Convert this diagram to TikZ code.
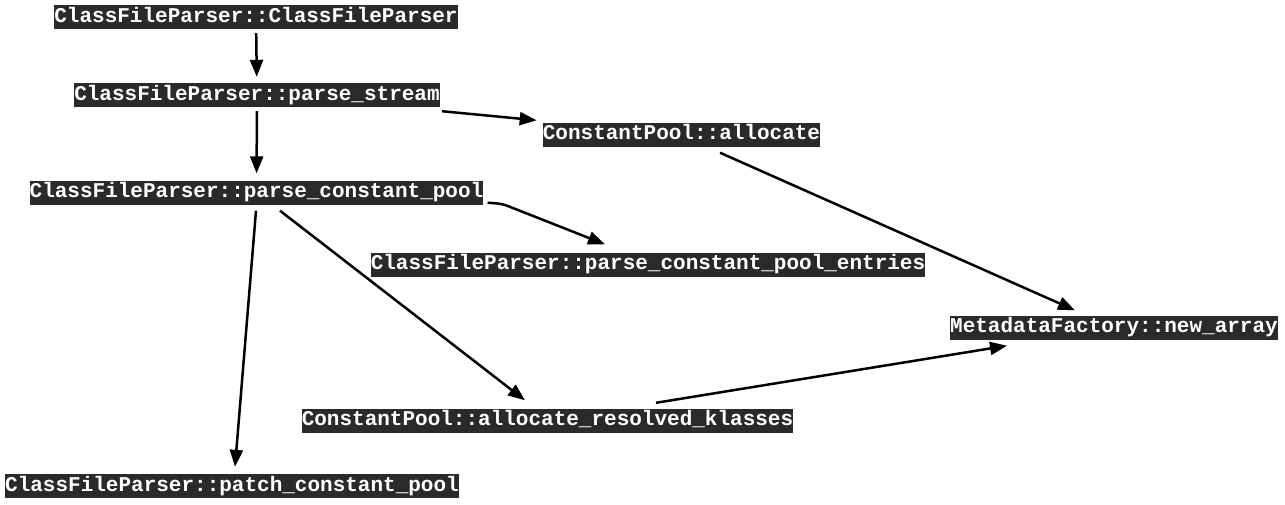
\documentclass[tikz,border=0pt]{standalone}
\usepackage{fontspec}
\setmonofont{Liberation Mono}
\usetikzlibrary{arrows.meta}
\definecolor{boxgray}{RGB}{42,42,42}

\begin{document}
\begin{tikzpicture}[x=1pt, y=-1pt,
    every node/.style={fill=boxgray, text=white, inner sep=0pt,
      text height=17pt, text depth=7pt,
      font=\ttfamily\bfseries\fontsize{21}{24}\selectfont},
    call/.style={line width=2.5pt, -{Triangle[length=17pt, width=13pt]}}]
            \useasboundingbox (0,0) rectangle (1285,504);

            \node (cfp) at (256,17) {ClassFileParser::ClassFileParser};
            \node (ps) at (257,95) {ClassFileParser::parse\_stream};
            \node (pcp) at (256.5,192.5) {ClassFileParser::parse\_constant\_pool};
            \node (alloc) at (681.5,134.5) {ConstantPool::allocate};
            \node (entries) at (648,264.5) {ClassFileParser::parse\_constant\_pool\_entries};
            \node (na) at (1114,327.5) {MetadataFactory::new\_array};
            \node (res) at (547.5,420.5) {ConstantPool::allocate\_resolved\_klasses};
            \node (patch) at (232,486) {ClassFileParser::patch\_constant\_pool};

            % Calls out of the parser
            \draw[call, shorten <=4pt, shorten >=6pt] (cfp) -- (ps);
            \draw[call, shorten <=4pt, shorten >=7pt] (ps) -- (pcp);
            \draw[call] ([shift={(2,4)}]ps.south east) -- ([shift={(-6,-2)}]alloc.north west);
            \draw[call] ([shift={(4,-2)}]pcp.south east)
                .. controls +(12,1) and +(-9,-3.5) .. ++(22,4)
                -- ([shift={(-43,-8)}]entries.north);
            \draw[call] ([shift={(23.5,6)}]pcp.south) -- ([shift={(-22.5,-8)}]res.north);
            \draw[call] ([shift={(-0.5,6)}]pcp.south) -- ([shift={(3,-7)}]patch.north);

            % Calls into the factory
            \draw[call] ([shift={(38.5,6)}]alloc.south) -- ([shift={(-39,-5)}]na.north);
            \draw[call] ([shift={(108.5,-5.5)}]res.north) -- ([shift={(-107,6)}]na.south);

        \end{tikzpicture}
\end{document}
